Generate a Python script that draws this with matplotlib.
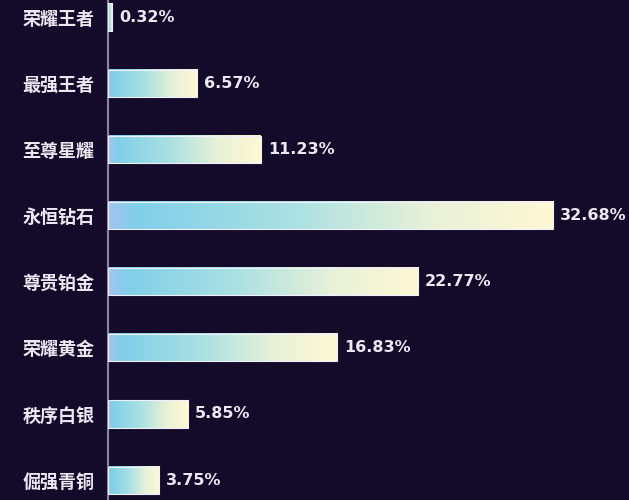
import matplotlib
matplotlib.use("Agg")
import matplotlib.pyplot as plt
import numpy as np
from matplotlib.colors import LinearSegmentedColormap

plt.rcParams['font.family'] = ['Noto Sans CJK SC', 'DejaVu Sans']

categories = ["荣耀王者", "最强王者", "至尊星耀", "永恒钻石", "尊贵铂金", "荣耀黄金", "秩序白银", "倔强青铜"]
values = [0.32, 6.57, 11.23, 32.68, 22.77, 16.83, 5.85, 3.75]
value_labels = ["0.32%", "6.57%", "11.23%", "32.68%", "22.77%", "16.83%", "5.85%", "3.75%"]

bg = "#140a29"
fig = plt.figure(figsize=(6.29, 5.0), dpi=100, facecolor=bg)
ax = fig.add_axes([108/629, 0, 1 - 108/629, 1])
ax.set_facecolor(bg)

cmap = LinearSegmentedColormap.from_list(
    "g", [(0, "#a4c4f2"), (0.06, "#80cfe9"), (0.4, "#a8e0e2"), (0.72, "#e8f1d8"), (1.0, "#fff8d4")])
grad = np.linspace(0, 1, 256).reshape(1, -1)

h = 0.41
for i, (v, lab) in enumerate(zip(values, value_labels)):
    ax.imshow(grad, cmap=cmap, aspect='auto', extent=[0, v, i + h/2, i - h/2], zorder=2)
    ax.add_patch(plt.Rectangle((0, i - h/2), v, h, fill=False, edgecolor="#eef0ff", lw=0.8, zorder=3))
    ax.text(v + 0.5, i, lab, color="#ece8f2", fontsize=11.5, fontweight='bold',
            va='center', ha='left', family=['DejaVu Sans'])

ax.set_xlim(0, 38.25)
ax.set_ylim(7.30, -0.257)
ax.set_yticks(range(len(categories)))
ax.set_yticklabels(categories, color="#ece8f2", fontsize=13, fontweight='bold')
ax.tick_params(axis='y', length=0, pad=10)
ax.set_xticks([])
for s in ["top", "right", "bottom"]:
    ax.spines[s].set_visible(False)
ax.spines["left"].set_color("#8c84a6")
ax.spines["left"].set_linewidth(1.5)

fig.savefig("out.png", dpi=100, facecolor=bg)
